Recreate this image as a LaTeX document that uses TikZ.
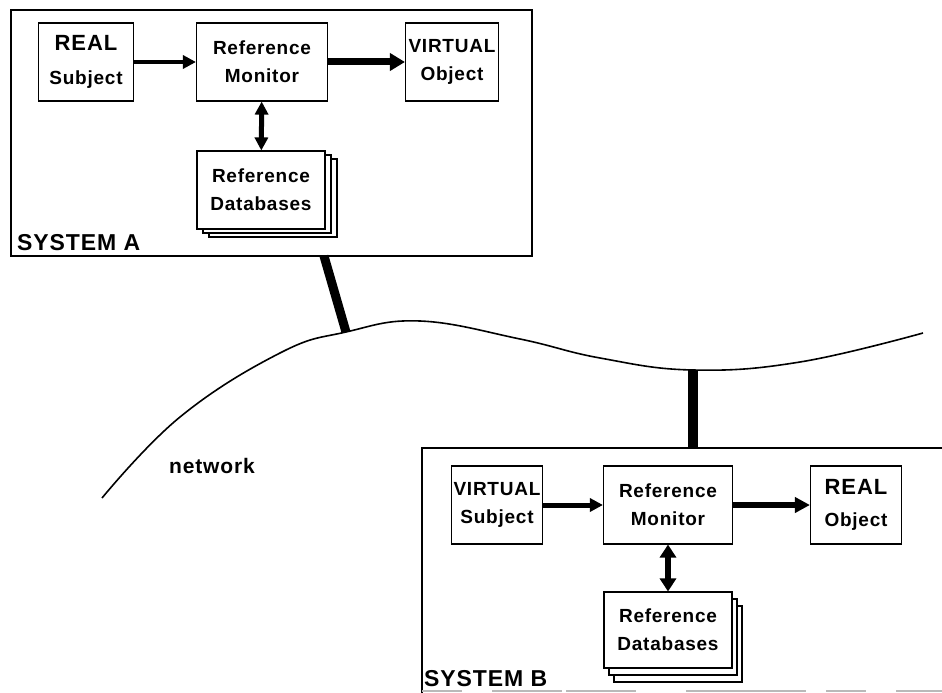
\documentclass[tikz,border=0pt]{standalone}
\usepackage{fontspec}
\setmainfont{Liberation Sans}
\newfontfamily\lblfont[LetterSpace=4]{Liberation Sans}
\usetikzlibrary{arrows.meta}

\begin{document}
\begin{tikzpicture}[
        x=1pt, y=-1pt,
        >={Triangle[length=13pt, width=13pt]},
        font=\lblfont\fontsize{19}{28}\selectfont\bfseries,
        box/.style={draw, line width=1.1pt, fill=white, align=center,
            minimum height=78pt, inner sep=0pt},
        dbbox/.style={box, minimum width=128pt},
        flow/.style={line width=#1},
        link/.style={line width=#1},
        syslabel/.style={anchor=base west, inner sep=0pt,
            font=\lblfont\fontsize{23}{28}\selectfont\bfseries}
    ]
    \useasboundingbox (0,0) rectangle (942,693);

    % System A
    \draw[line width=1.1pt] (11,10) rectangle (532,256);
    \coordinate (sysA) at (324,256);
    \node[box, minimum width=95pt] (realA) at (86,62) {{\fontsize{22}{28}\selectfont REAL}\\[6pt]Subject};
    \node[box, minimum width=131pt] (monA) at (262,62) {Reference\\Monitor};
    \node[box, minimum width=93pt] (virtA) at (452,62) {VIRTUAL\\Object};
    \node[dbbox] (dbA2) at (273,198) {};
    \node[dbbox] (dbA1) at (267,194) {};
    \node[dbbox] (dbA) at (261,190) {Reference\\Databases};
    \node[syslabel] (labA) at (17,250) {SYSTEM A};

    \draw[->, flow=4pt] (realA) -- (monA);
    \draw[->, flow=7pt, >={Triangle[length=15pt, width=17pt]}] (monA) -- (virtA);
    \draw[<->, flow=5pt] (monA) -- (dbA);

    % Netz
    \draw[line width=1.6pt] plot[smooth, tension=0.7] coordinates {
        (102,498) (180,417) (280,353) (346,332) (420,321) (520,339)
        (600,358) (693,370) (800,362) (923,333)};
    \coordinate (netA) at (346,332);
    \coordinate (netB) at (693,370);
    \node (net) at (212,466) {\fontsize{21}{28}\selectfont network};

    \draw[link=9pt] (sysA) -- (netA);
    \coordinate (sysB) at (693,448);
    \draw[link=10pt] (netB) -- (sysB);

    % System B
    \draw[line width=1.1pt] (942,448) -- (422,448) -- (422,693);
    \draw[gray!55, line width=2pt, dash pattern=on 40pt off 30pt on 70pt off 4pt on 70pt off 50pt on 120pt off 20pt]
        (422,691) -- (942,691);
    \node[box, minimum width=91pt] (virtB) at (497,505) {VIRTUAL\\Subject};
    \node[box, minimum width=129pt] (monB) at (668,505) {Reference\\Monitor};
    \node[box, minimum width=91pt] (realB) at (856,505) {{\fontsize{22}{28}\selectfont REAL}\\[4pt]Object};
    \node[dbbox, minimum height=76pt] (dbB2) at (678,644) {};
    \node[dbbox, minimum height=76pt] (dbB1) at (673,637) {};
    \node[dbbox, minimum height=76pt] (dbB) at (668,630) {Reference\\Databases};
    \node[syslabel] (labB) at (424,686) {SYSTEM B};

    \draw[->, flow=5pt] (virtB) -- (monB);
    \draw[->, flow=6pt, >={Triangle[length=15pt, width=15pt]}] (monB) -- (realB);
    \draw[<->, flow=6pt, >={Triangle[length=13pt, width=16pt]}] (monB) -- (dbB);

\end{tikzpicture}
\end{document}
